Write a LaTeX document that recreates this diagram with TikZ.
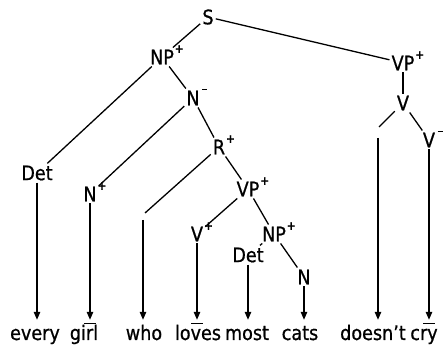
\documentclass[tikz,border=0pt]{standalone}
\usepackage{fontspec}
\setmainfont{DejaVu Sans}[FakeStretch=0.88,FakeBold=0.8]
\usetikzlibrary{arrows.meta,calc}
\newcommand\supp{\rlap{\hspace{1pt}\raisebox{11.5pt}[0pt][0pt]{\fontsize{12}{12}\selectfont\bfseries +}}}
\newcommand\supm{\rlap{\hspace{2.5pt}\raisebox{15pt}[0pt][0pt]{\rule{5pt}{1.4pt}}}}
\begin{document}
\begin{tikzpicture}[x=1pt,y=-1pt,
  every node/.style={font=\fontsize{20}{24}\selectfont, inner sep=2pt},
  edge/.style={line width=1.3pt},
  arr/.style={line width=1.3pt,-{Triangle[length=8pt,width=6.5pt]}},
  word/.style={anchor=base, text height=14pt, inner ysep=6pt}]
\useasboundingbox (0,0) rectangle (448,347);
% tree nodes
\node (s) at (208,17) {S};
\node (np1) at (162,57) {NP\supp};
\node (vp1) at (403,63) {VP\supp};
\node (v1) at (403,103) {V};
\node (v2) at (429,140) {V\supm};
\node (n1) at (193,98) {N\supm};
\node (r) at (219,147) {R\supp};
\node (vp2) at (248,189) {VP\supp};
\node (det1) at (37,173) {Det};
\node (n2) at (90,194) {N\supp};
\node (v3) at (197,234) {V\supp};
\node (np2) at (274,234) {NP\supp};
\node (det2) at (248,255) {Det};
\node (n3) at (304,277) {N};
% free ends
\coordinate (rend) at (145,213);
\coordinate (whotop) at (143,220);
\coordinate (vend) at (379,127);
\coordinate (doestop) at (378,138);
% words
\node[word] (w1) at (35,340) {every};
\node[word] (w2) at (84,340) {girl};
\node[word] (w3) at (144,340) {who};
\node[word] (w4) at (198,340) {loves};
\node[word] (w5) at (247,340) {most};
\node[word] (w6) at (300,340) {cats};
\node[word] (w7) at (373,340) {doesn't};
\node[word] (w8) at (424,340) {cry};
% edges
\draw[edge] (s) -- (np1);
\draw[edge] (s) -- (vp1);
\draw[edge] (np1) -- (det1);
\draw[edge] (np1) -- (n1);
\draw[edge] (n1) -- (n2);
\draw[edge] (n1) -- (r);
\draw[edge] (r) -- (rend);
\draw[edge] (r) -- (vp2);
\draw[edge] (vp2) -- (v3);
\draw[edge] (vp2) -- (np2);
\draw[edge] (np2) -- (det2);
\draw[edge] (np2) -- (n3);
\draw[edge] (vp1) -- (v1);
\draw[edge] (v1) -- (vend);
\draw[edge] (v1) -- (v2);
% arrows
\draw[arr] (det1.south) -- (det1.south |- w1.north);
\draw[arr] (n2.south) -- (n2.south |- w2.north);
\draw[arr] (whotop) -- (whotop |- w3.north);
\draw[arr] (v3.south) -- (v3.south |- w4.north);
\draw[arr] (det2.south) -- (det2.south |- w5.north);
\draw[arr] (n3.south) -- (n3.south |- w6.north);
\draw[arr] (doestop) -- (doestop |- w7.north);
\draw[arr] (v2.south) -- (v2.south |- w8.north);
% bars
\draw[edge] ($(n2.south |- w2.north)+(-6,3.8)$) -- ++(12,0);
\draw[edge] ($(v3.south |- w4.north)+(-6,3.8)$) -- ++(12,0);
\draw[edge] ($(v2.south |- w8.north)+(-6,3.8)$) -- ++(12,0);
\end{tikzpicture}
\end{document}
